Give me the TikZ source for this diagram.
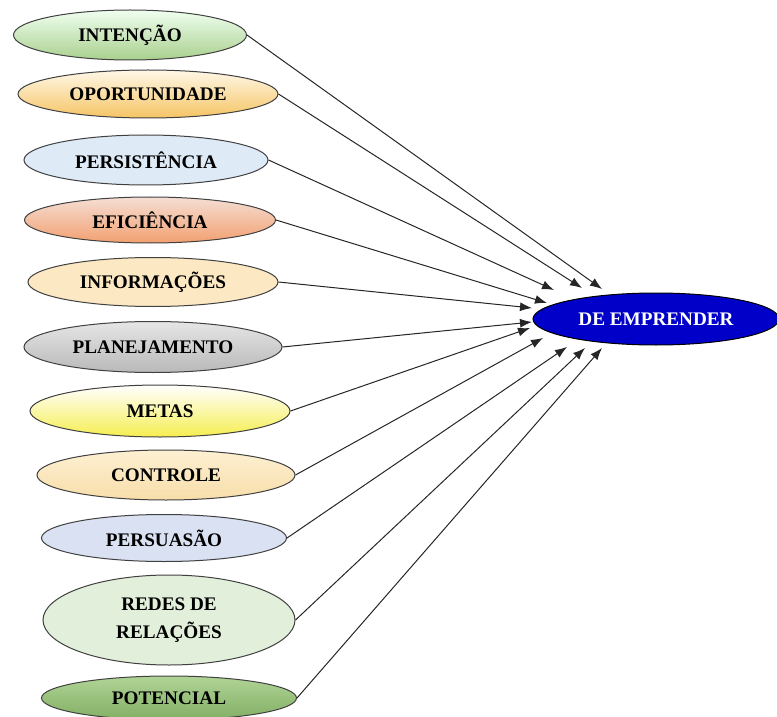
\documentclass[tikz,border=0pt]{standalone}
\usepackage{fontspec}
\setmainfont{Liberation Serif}
\usepackage{tikz}
\usetikzlibrary{arrows.meta, shapes.geometric}

\tikzset{
    elip/.style={ellipse, draw=black!75, line width=0.5pt, inner sep=0pt, align=center,
        font=\fontsize{9.6}{14}\selectfont\bfseries},
    seta/.style={-{Latex[length=6pt, width=4.5pt]}, line width=0.5pt, black!85},
}

\begin{document}
\begin{tikzpicture}[x=0.5pt, y=-0.5pt]

    % Cadre
    \useasboundingbox (0,0) rectangle (777,717);

    % Ellipses (facteurs)
    \node[elip, minimum width=116.5pt, minimum height=25pt, top color=green!6, bottom color={rgb,255:red,169;green,208;blue,142}] (int) at (130,35) {INTENÇÃO};
    \node[elip, minimum width=130pt, minimum height=24pt, top color={rgb,255:red,255;green,248;blue,232}, bottom color={rgb,255:red,245;green,196;blue,100}] (opo) at (148,94) {OPORTUNIDADE};
    \node[elip, minimum width=122pt, minimum height=25pt, fill={rgb,255:red,222;green,234;blue,246}] (per) at (146,160) {PERSISTÊNCIA};
    \node[elip, minimum width=125.5pt, minimum height=23pt, top color={rgb,255:red,245;green,222;blue,212}, middle color={rgb,255:red,252;green,242;blue,236}, bottom color={rgb,255:red,242;green,160;blue,112}] (efi) at (150,220) {EFICIÊNCIA};
    \node[elip, minimum width=125pt, minimum height=24.5pt, fill={rgb,255:red,252;green,233;blue,195}] (inf) at (153,282) {INFORMAÇÕES};
    \node[elip, minimum width=129pt, minimum height=25.5pt, top color=gray!20, middle color=white, bottom color=gray!55] (pla) at (153,347) {PLANEJAMENTO};
    \node[elip, minimum width=130pt, minimum height=26pt, top color=white, bottom color={rgb,255:red,245;green,238;blue,80}] (met) at (160,411) {METAS};
    \node[elip, minimum width=129pt, minimum height=25pt, top color={rgb,255:red,253;green,240;blue,210}, bottom color={rgb,255:red,248;green,222;blue,170}] (con) at (166,475) {CONTROLE};
    \node[elip, minimum width=122.5pt, minimum height=23.5pt, fill={rgb,255:red,217;green,225;blue,242}] (pes) at (164,538) {PERSUASÃO};
    \node[elip, minimum width=126pt, minimum height=45pt, fill={rgb,255:red,226;green,239;blue,218}] (red) at (169,620) {REDES DE\\RELAÇÕES};
    \node[elip, minimum width=127.5pt, minimum height=22pt, top color={rgb,255:red,176;green,212;blue,150}, bottom color={rgb,255:red,130;green,175;blue,100}] (pot) at (169,698) {POTENCIAL};

    % Ellipse cible
    \node[elip, minimum width=123pt, minimum height=26pt, fill={rgb,255:red,0;green,0;blue,200}, draw=black, text=white] (emp) at (656,319) {DE EMPRENDER};

    % Pointes des flèches
    \coordinate (t1) at (602,289);
    \coordinate (t2) at (582,288);
    \coordinate (t3) at (554,290);
    \coordinate (t4) at (547,303);
    \coordinate (t5) at (532,308);
    \coordinate (t6) at (532,322);
    \coordinate (t7) at (530,328);
    \coordinate (t8) at (543,338);
    \coordinate (t9) at (567,347);
    \coordinate (t10) at (585,348);
    \coordinate (t11) at (602,348);

    % Flèches
    \foreach \n/\t in {int/t1, opo/t2, per/t3, efi/t4, inf/t5, pla/t6, met/t7, con/t8, pes/t9, red/t10, pot/t11} {
        \draw[seta] (\n.east) -- (\t);
    }

\end{tikzpicture}
\end{document}
